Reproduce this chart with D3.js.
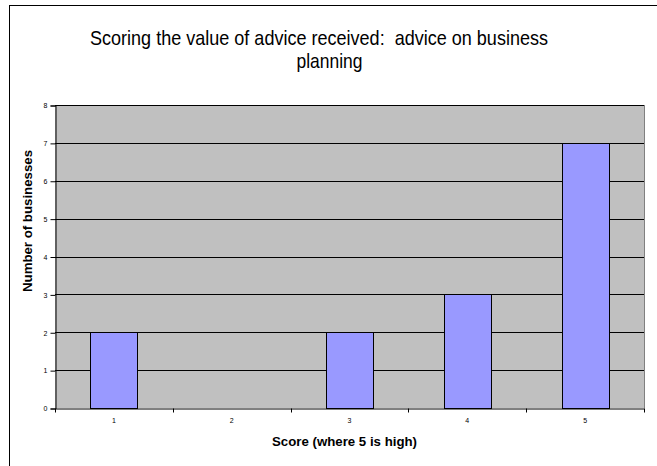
<!DOCTYPE html>
<html>
<head>
<meta charset="utf-8">
<script src="https://cdn.jsdelivr.net/npm/d3@7"></script>
<style>
  html, body { margin: 0; padding: 0; background: #fff; }
  svg { display: block; font-family: Arial, "Liberation Sans", sans-serif; }
</style>
</head>
<body>
<svg id="chart" width="657" height="466"></svg>
<script>
// Scores given by businesses for advice on business planning
const scores = ["1", "2", "3", "4", "5"];
const businesses = [2, 0, 2, 3, 7];
const yTicks = [0, 1, 2, 3, 4, 5, 6, 7, 8];

const titleLines = ["Scoring the value of advice received:  advice on business", "planning"];
const xTitle = "Score (where 5 is high)";
const yTitle = "Number of businesses";

const svg = d3.select("#chart");

// chart frame (right and bottom edges fall outside the view)
svg.append("rect")
  .attr("x", 9.5).attr("y", 5.5)
  .attr("width", 700).attr("height", 500)
  .attr("fill", "#fff").attr("stroke", "#000").attr("stroke-width", 1);

const plot = { left: 55, right: 644, top: 105, bottom: 408 };

const x = d3.scaleBand()
  .domain(scores)
  .range([plot.left, plot.right])
  .paddingInner(0.6)
  .paddingOuter(0.3);

const y = d3.scaleLinear()
  .domain([0, 8])
  .range([plot.bottom, plot.top]);

// plot area background
svg.append("rect")
  .attr("x", plot.left).attr("y", plot.top)
  .attr("width", plot.right - plot.left).attr("height", plot.bottom - plot.top)
  .attr("fill", "#C0C0C0");

// horizontal gridlines
svg.append("g").selectAll("line")
  .data(yTicks.filter(d => d > 0))
  .join("line")
  .attr("x1", plot.left).attr("x2", plot.right)
  .attr("y1", d => Math.round(y(d)) + 0.5).attr("y2", d => Math.round(y(d)) + 0.5)
  .attr("stroke", "#000").attr("stroke-width", 1);

// right border of plot area
svg.append("line")
  .attr("x1", plot.right + 0.5).attr("x2", plot.right + 0.5)
  .attr("y1", plot.top).attr("y2", plot.bottom)
  .attr("stroke", "#808080").attr("stroke-width", 1);

// bars
svg.append("g").selectAll("rect")
  .data(businesses.map((v, i) => ({ score: scores[i], value: v })).filter(d => d.value > 0))
  .join("rect")
  .attr("x", d => Math.round(x(d.score)) + 0.5)
  .attr("y", d => Math.round(y(d.value)) + 0.5)
  .attr("width", Math.round(x.bandwidth()))
  .attr("height", d => Math.round(y(0)) - Math.round(y(d.value)))
  .attr("fill", "#9999FF")
  .attr("stroke", "#000").attr("stroke-width", 1);

// y axis
const yAxis = svg.append("g")
  .attr("transform", `translate(${plot.left + 0.5},0.5)`)
  .call(d3.axisLeft(y).tickValues(yTicks).tickSize(5).tickPadding(3).tickFormat(d3.format("d")));
yAxis.select(".domain").attr("stroke", "#000");
yAxis.selectAll(".tick line").attr("stroke", "#000");
yAxis.selectAll("text").attr("font-size", 7).attr("fill", "#000")
  .attr("font-family", "Arial, 'Liberation Sans', sans-serif");

// x axis: line, boundary ticks and centred category labels
const xAxis = svg.append("g")
  .attr("transform", `translate(0,${Math.round(plot.bottom) + 0.5})`)
  .call(d3.axisBottom(x).tickSize(0).tickPadding(10));
xAxis.select(".domain").attr("stroke", "#000");
xAxis.selectAll("text").attr("font-size", 7).attr("fill", "#000")
  .attr("font-family", "Arial, 'Liberation Sans', sans-serif");
xAxis.append("g").selectAll("line")
  .data(d3.range(scores.length + 1))
  .join("line")
  .attr("x1", i => Math.round(plot.left + i * x.step()) + 0.5)
  .attr("x2", i => Math.round(plot.left + i * x.step()) + 0.5)
  .attr("y1", 0).attr("y2", 4)
  .attr("stroke", "#000");

// title (two lines, double space kept)
svg.append("text")
  .attr("x", 90).attr("y", 45)
  .attr("font-size", 21)
  .style("white-space", "pre")
  .attr("textLength", 458).attr("lengthAdjust", "spacingAndGlyphs")
  .attr("fill", "#000")
  .text(titleLines[0]);
svg.append("text")
  .attr("x", 329.5).attr("y", 68)
  .attr("text-anchor", "middle")
  .attr("font-size", 21)
  .attr("textLength", 66).attr("lengthAdjust", "spacingAndGlyphs")
  .attr("fill", "#000")
  .text(titleLines[1]);

// axis titles
svg.append("text")
  .attr("x", 272).attr("y", 446)
  .attr("font-size", 13).attr("font-weight", "bold")
  .attr("textLength", 145).attr("lengthAdjust", "spacingAndGlyphs")
  .attr("fill", "#000")
  .text(xTitle);

svg.append("text")
  .attr("transform", "translate(31.5,292) rotate(-90)")
  .attr("font-size", 13).attr("font-weight", "bold")
  .attr("textLength", 142).attr("lengthAdjust", "spacingAndGlyphs")
  .attr("fill", "#000")
  .text(yTitle);
</script>
</body>
</html>
